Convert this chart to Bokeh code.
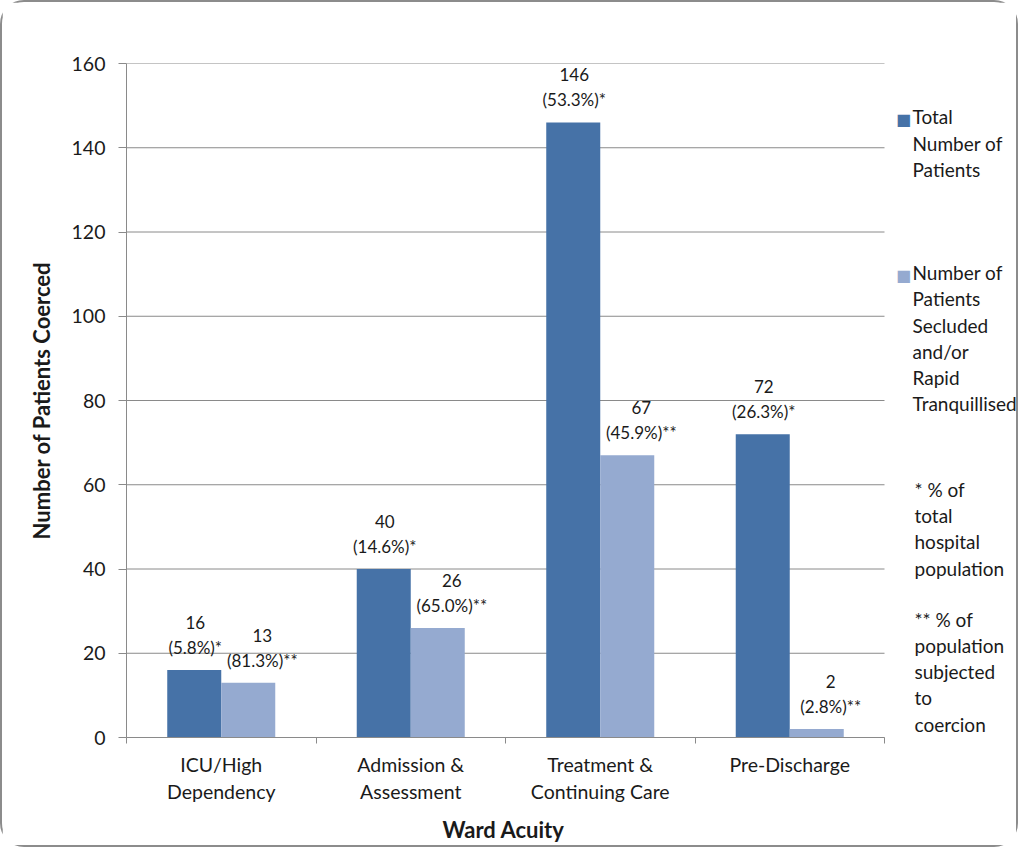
from bokeh.plotting import figure
from bokeh.models import Range1d, FixedTicker, ColumnDataSource, Label, Title
from bokeh.embed import file_html
from bokeh.resources import INLINE
from bokeh.core.properties import value

# ---- data ----
categories = ["ICU/High\nDependency", "Admission &\nAssessment",
              "Treatment &\nContinuing Care", "Pre-Discharge"]
total = [16, 40, 146, 72]
secluded = [13, 26, 67, 2]
total_pct = ["(5.8%)*", "(14.6%)*", "(53.3%)*", "(26.3%)*"]
secluded_pct = ["(81.3%)**", "(65.0%)**", "(45.9%)**", "(2.8%)**"]
y_ticks = [0, 20, 40, 60, 80, 100, 120, 140, 160]
series_names = ["Total\nNumber of\nPatients",
                "Number of\nPatients\nSecluded\nand/or\nRapid\nTranquillised"]
notes = ["* % of\ntotal\nhospital\npopulation",
         "** % of\npopulation\nsubjected\nto\ncoercion"]
x_title = "Ward Acuity"
y_title = "Number of Patients Coerced"

# ---- style ----
FONT = "Lato"
DARK = "#4672A7"
LIGHT = "#95AAD0"
GRAY = "#8A8A8A"
TEXT = "#1a1a1a"
BAR_W = 0.285

# page-pixel layout of the plot area
W, H = 1018, 847
OX, OY = 2, 2                # canvas origin on page (border)
FL, FT, FB = 126, 63, 738    # frame left / top / bottom on page
CAT_R = 884                  # right end of category axis on page
FR = OX + W                  # frame right (legend lives inside frame)

n = len(categories)
x_end = n * (FR - FL) / (CAT_R - FL)

p = figure(width=W, height=H, output_backend="svg", toolbar_location=None,
           x_range=Range1d(0, x_end), y_range=Range1d(0, y_ticks[-1]),
           min_border_left=FL - OX, min_border_right=OX + W - FR,
           min_border_top=FT - OY, min_border_bottom=OY + H - FB)
p.styles = {"border": "2px solid #8c8c8c", "border-radius": "24px"}
p.outline_line_color = None
p.background_fill_color = "white"
p.border_fill_color = "white"

# gridlines limited to the category area
p.xgrid.visible = False
p.ygrid.visible = False
p.segment(x0=[0] * len(y_ticks), x1=[n] * len(y_ticks), y0=y_ticks, y1=y_ticks,
          line_color=GRAY, line_width=1)

centers = [i + 0.5 for i in range(n)]
src_t = ColumnDataSource(dict(x=[c - BAR_W / 2 for c in centers], top=total,
                              lab=[f"{v}\n{s}" for v, s in zip(total, total_pct)]))
src_s = ColumnDataSource(dict(x=[c + BAR_W / 2 for c in centers], top=secluded,
                              lab=[f"{v}\n{s}" for v, s in zip(secluded, secluded_pct)]))

p.vbar(x="x", top="top", width=BAR_W, source=src_t, fill_color=DARK, line_color=None)
p.vbar(x="x", top="top", width=BAR_W, source=src_s, fill_color=LIGHT, line_color=None)

for src, xo in ((src_t, 1), (src_s, 14)):
    p.text(x="x", y="top", text="lab", source=src, text_align="center",
           text_baseline="bottom", y_offset=-12, x_offset=xo,
           text_font=value(FONT), text_font_size="17px", text_color=TEXT,
           text_line_height=1.2)

# ---- axes ----
ya = p.yaxis[0]
ya.ticker = FixedTicker(ticks=y_ticks)
ya.axis_line_color = GRAY
ya.major_tick_line_color = GRAY
ya.major_tick_out = 8
ya.major_tick_in = 0
ya.minor_tick_line_color = None
ya.major_label_standoff = 13
ya.major_label_text_font = FONT
ya.major_label_text_font_size = "19.5px"
ya.major_label_text_color = TEXT
ya.axis_label = y_title
ya.axis_label_text_font = FONT
ya.axis_label_text_font_size = "22px"
ya.axis_label_text_font_style = "bold"
ya.axis_label_text_color = TEXT
ya.axis_label_standoff = 14

xa = p.xaxis[0]
xa.bounds = (0, n)
xa.ticker = FixedTicker(ticks=centers, minor_ticks=list(range(n + 1)))
xa.major_label_overrides = {c: lab for c, lab in zip(centers, categories)}
xa.axis_line_color = GRAY
xa.major_tick_line_color = None
xa.major_tick_out = 0
xa.major_tick_in = 0
xa.minor_tick_line_color = GRAY
xa.minor_tick_out = 6
xa.minor_tick_in = 0
xa.major_label_standoff = 9
xa.major_label_text_font = FONT
xa.major_label_text_font_size = "19.5px"
xa.major_label_text_color = TEXT

# x-axis title centred under the category area (not the whole frame)
p.add_layout(Title(text=x_title, align="left", offset=442 - FL, standoff=14,
                   text_font=FONT, text_font_size="22px", text_font_style="bold",
                   text_color=TEXT), "below")

# ---- legend / notes (page pixel layout converted to data units) ----
def dx(px):
    return (px - FL) / (CAT_R - FL) * n
def dy(py):
    return (FB - py) / (FB - FT) * y_ticks[-1]

for name, col, cy in zip(series_names, (DARK, LIGHT), (118, 274)):
    p.add_layout(Label(x=dx(903), y=dy(cy + 1), text="\u25a0", text_align="center",
                       text_baseline="middle", text_font="DejaVu Sans",
                       text_font_size="16px", text_color=col))
    p.add_layout(Label(x=dx(912), y=dy(cy - 13), text=name, text_align="left",
                       text_baseline="top", text_font=FONT,
                       text_font_size="19px", text_line_height=1.14, text_color=TEXT))
for note, cy in zip(notes, (491, 621)):
    p.add_layout(Label(x=dx(914), y=dy(cy - 13), text=note, text_align="left",
                       text_baseline="top", text_font=FONT,
                       text_font_size="19px", text_line_height=1.14, text_color=TEXT))

open("out.html", "w").write(file_html(p, INLINE))
